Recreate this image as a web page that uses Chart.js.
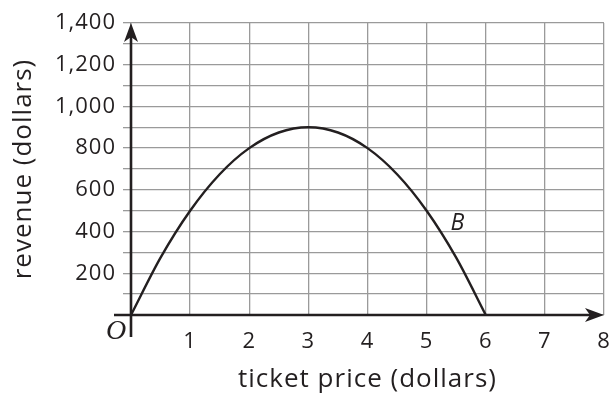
<!DOCTYPE html>
<html lang="en">
<head>
    <meta charset="UTF-8">
    <title>ticket price vs revenue</title>
    <script src="https://cdn.jsdelivr.net/npm/chart.js"></script>
    <style>
        html, body { margin: 0; padding: 0; background: #fff; }
        #wrap { width: 609px; height: 393px; position: relative; }
    </style>
</head>
<body>
    <div id="wrap"><canvas id="chart"></canvas></div>

    <script>
        // values
        const prices = [0, 0.5, 1, 1.5, 2, 2.5, 3, 3.5, 4, 4.5, 5, 5.5, 6];
        const revenue = [0, 275, 500, 675, 800, 875, 900, 875, 800, 675, 500, 275, 0];
        const xTickLabels = ['', '1', '2', '3', '4', '5', '6', '7', '8'];
        const yTickLabels = { 200: '200', 400: '400', 600: '600', 800: '800', 1000: '1,000', 1200: '1,200', 1400: '1,400' };
        const curveLabel = { text: 'B', x: 5.52, y: 440 };

        const FONT = '"Open Sans", "Noto Sans", sans-serif';
        const INK = '#231f20';

        function arrowHead(ctx, tx, ty, dir) {
            // dir: 'up' or 'right'
            ctx.save();
            ctx.translate(tx, ty);
            if (dir === 'up') ctx.rotate(-Math.PI / 2);
            ctx.beginPath();
            ctx.moveTo(0, 0);
            ctx.lineTo(-19, -7);
            ctx.lineTo(-14, 0);
            ctx.lineTo(-19, 7);
            ctx.closePath();
            ctx.fillStyle = INK;
            ctx.fill();
            ctx.restore();
        }

        // the text in the picture is a little spaced out
        const spacingPlugin = {
            id: 'spacing',
            beforeLayout(chart) { chart.ctx.letterSpacing = '1px'; },
            beforeDraw(chart) { chart.ctx.letterSpacing = '1px'; }
        };

        // draws the axes with arrows and the extra labels
        const axesPlugin = {
            id: 'axes',
            afterDatasetsDraw(chart) {
                const ctx = chart.ctx;
                const xs = chart.scales.x, ys = chart.scales.y;
                const x0 = xs.getPixelForValue(0), y0 = ys.getPixelForValue(0);
                const xEnd = xs.getPixelForValue(8), yEnd = ys.getPixelForValue(1400);
                ctx.save();
                ctx.strokeStyle = INK;
                ctx.lineWidth = 2.6;
                ctx.beginPath();
                ctx.moveTo(x0 - 17, y0);
                ctx.lineTo(xEnd - 10, y0);
                ctx.moveTo(x0, y0 + 22);
                ctx.lineTo(x0, yEnd + 10);
                ctx.stroke();
                arrowHead(ctx, xEnd, y0, 'right');
                arrowHead(ctx, x0, yEnd, 'up');

                ctx.fillStyle = INK;
                ctx.textAlign = 'center';
                ctx.textBaseline = 'middle';
                ctx.letterSpacing = '0px';
                ctx.font = 'italic 28px "Liberation Serif", serif';
                ctx.fillText('O', x0 - 15, y0 + 17);
                ctx.font = 'italic 23px ' + FONT;
                ctx.fillText(curveLabel.text, xs.getPixelForValue(curveLabel.x), ys.getPixelForValue(curveLabel.y));
                ctx.restore();
            }
        };

        new Chart(document.getElementById('chart'), {
            type: 'line',
            data: {
                datasets: [{
                    data: prices.map((p, i) => ({ x: p, y: revenue[i] })),
                    borderColor: INK,
                    borderWidth: 2.4,
                    pointRadius: 0,
                    cubicInterpolationMode: 'monotone',
                    fill: false
                }]
            },
            options: {
                responsive: true,
                maintainAspectRatio: false,
                animation: false,
                layout: { padding: { top: 23, right: 5, left: 0, bottom: 0 } },
                plugins: { legend: { display: false }, tooltip: { enabled: false } },
                scales: {
                    x: {
                        type: 'linear',
                        min: 0,
                        max: 8,
                        afterBuildTicks(scale) {
                            scale.ticks = xTickLabels.map((_, i) => ({ value: i }));
                        },
                        afterFit(scale) {
                            scale.height = 78;
                            scale.paddingLeft = 0;
                            scale.paddingRight = 0;
                        },
                        border: { display: false },
                        grid: { color: '#9a9a9a', lineWidth: 1.3, drawTicks: false },
                        ticks: {
                            padding: 14,
                            color: INK,
                            font: { family: FONT, size: 22 },
                            maxRotation: 0,
                            callback: (v, i) => xTickLabels[i]
                        },
                        title: {
                            display: true,
                            text: 'ticket price (dollars)',
                            color: INK,
                            font: { family: FONT, size: 26 },
                            padding: { top: 0, bottom: -2 }
                        }
                    },
                    y: {
                        min: 0,
                        max: 1400,
                        afterBuildTicks(scale) {
                            const t = [];
                            for (let v = 0; v <= 1400; v += 100) t.push({ value: v });
                            scale.ticks = t;
                        },
                        afterFit(scale) {
                            scale.width = 131;
                            scale.paddingTop = 0;
                            scale.paddingBottom = 0;
                        },
                        border: { display: false },
                        grid: { color: '#9a9a9a', lineWidth: 1.3, tickLength: 8, tickColor: '#9a9a9a' },
                        ticks: {
                            padding: 7,
                            color: INK,
                            font: { family: FONT, size: 22 },
                            autoSkip: false,
                            callback: v => yTickLabels[v] || ''
                        },
                        title: {
                            display: true,
                            text: 'revenue (dollars)',
                            color: INK,
                            font: { family: FONT, size: 26 },
                            padding: { top: 8, bottom: 0 }
                        }
                    }
                }
            },
            plugins: [spacingPlugin, axesPlugin]
        });
    </script>
</body>
</html>
